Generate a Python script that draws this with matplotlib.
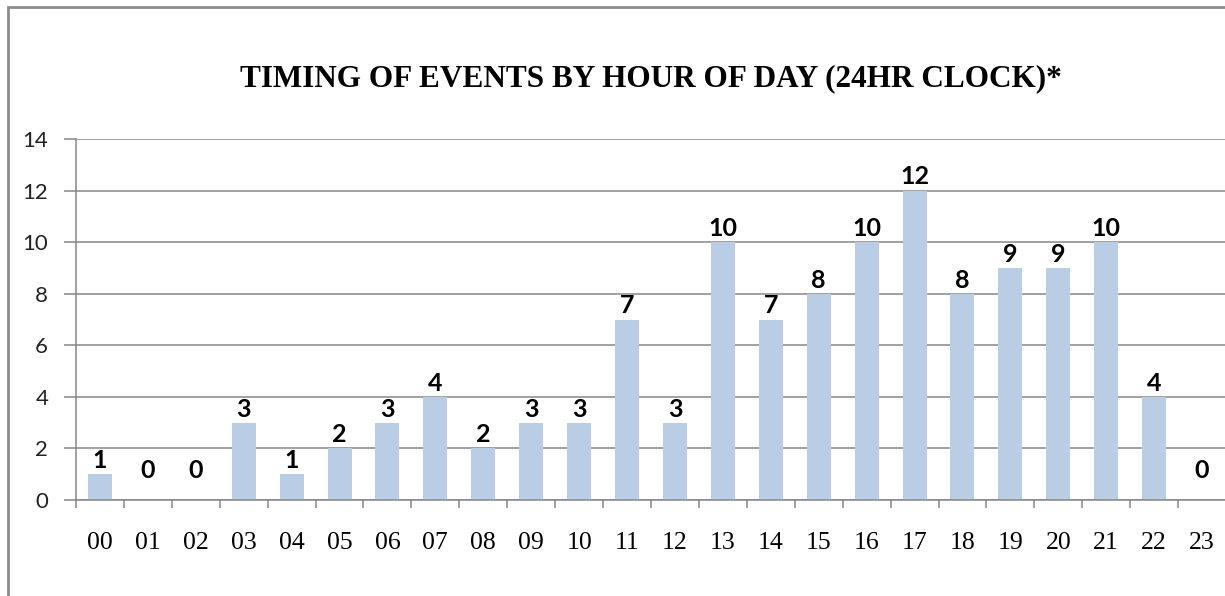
import numpy as np
import matplotlib
matplotlib.use("Agg")
import matplotlib.pyplot as plt
from matplotlib.patches import Rectangle

# hours of day and number of events
hours = ['00', '01', '02', '03', '04', '05', '06', '07', '08', '09', '10', '11',
         '12', '13', '14', '15', '16', '17', '18', '19', '20', '21', '22', '23']
events = [1, 0, 0, 3, 1, 2, 3, 4, 2, 3, 3, 7, 3, 10, 7, 8, 10, 12, 8, 9, 9, 10, 4, 0]
title = 'TIMING OF EVENTS BY HOUR OF DAY (24HR CLOCK)*'

grey = '#868686'
bar_col = '#B9CDE5'

fig = plt.figure(figsize=(12.25, 5.96), dpi=100)
ax = fig.add_axes([76 / 1225, 1 - 500 / 596, 1150 / 1225, 361 / 596])

x = np.arange(len(hours))
ax.bar(x, events, width=0.5, color=bar_col, zorder=2)

# data labels (Excel puts the zero ones a bit higher)
for xi, v in zip(x, events):
    off = 13 if v == 0 else 1.5
    ax.annotate(str(v), (xi, v), xytext=(0, off), textcoords='offset points',
                ha='center', va='bottom', fontsize=18, fontweight='bold',
                family='Lato', color='black')

ax.set_xlim(-0.5, len(hours) - 0.5)
ax.set_ylim(0, 14)
ax.set_yticks(range(0, 15, 2))
ax.yaxis.grid(True, color=grey, linewidth=1.1, zorder=0)
ax.set_axisbelow(True)

# category ticks sit on the boundaries, labels centred under bars
ax.set_xticks(np.arange(-0.5, len(hours), 1.0))
ax.set_xticklabels([])
ax.set_xticks(x, minor=True)
ax.set_xticklabels(hours, minor=True, family='Liberation Serif', fontsize=18.5)
ax.tick_params(axis='x', which='major', direction='out', length=6, color=grey, width=1.1)
ax.tick_params(axis='x', which='minor', length=0, pad=23)
ax.tick_params(axis='y', direction='out', length=9, color=grey, width=1.1, pad=11)
for lbl in ax.get_yticklabels():
    lbl.set_family('Lato')
    lbl.set_fontsize(16)
    lbl.set_color('#222222')

for s in ['top', 'right']:
    ax.spines[s].set_visible(False)
for s in ['left', 'bottom']:
    ax.spines[s].set_color(grey)
    ax.spines[s].set_linewidth(1.1)

fig.text(651 / 1225, 1 - 79 / 596, title, ha='center', va='center',
         family='Liberation Serif', fontweight='bold', fontsize=22.5)

# outer chart frame
fig.patches.append(Rectangle((8 / 1225, -0.1), 1.1, 0.1 + (596 - 7) / 596,
                             transform=fig.transFigure, fill=False,
                             edgecolor='#8c8c8c', linewidth=2))

fig.savefig('out.png', dpi=100)
